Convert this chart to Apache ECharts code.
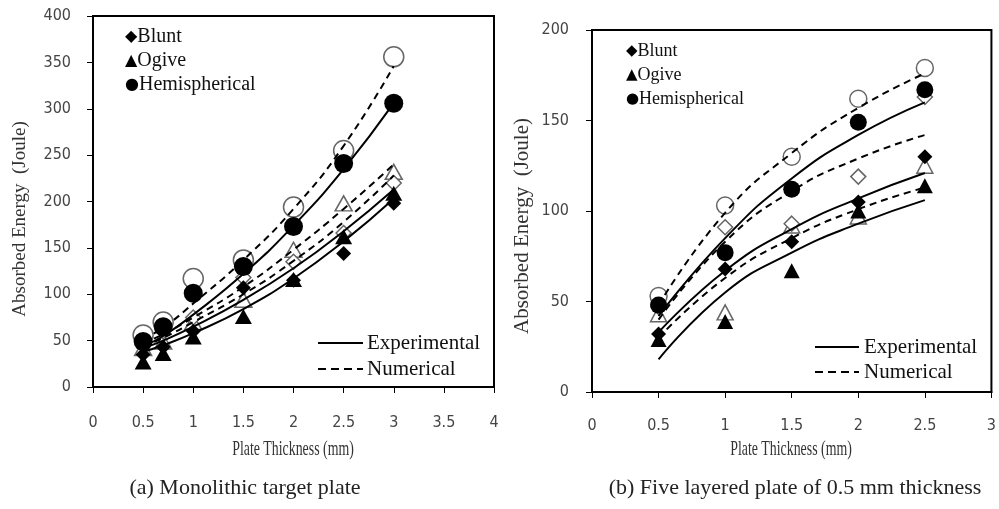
<!DOCTYPE html>
<html><head><meta charset="utf-8">
<script src="https://cdn.jsdelivr.net/npm/echarts@6/dist/echarts.min.js"></script>
<style>html,body{margin:0;padding:0;background:#fff}#c{width:999px;height:509px}</style>
</head><body><div id="c"></div>
<script>
// ---- Chart (a): Monolithic target plate ----
const thicknessA = [0.5, 0.7, 1, 1.5, 2, 2.5, 3];
const bluntExpA  = [35, 43, 60, 107, 115, 144, 198];
const bluntNumA  = [45, 60, 75, 118, 135, 166, 220];
const ogiveExpA  = [27, 36, 54, 76, 116, 162, 209];
const ogiveNumA  = [42, 49, 70, 94, 148, 198, 232];
const hemiExpA   = [49, 65, 101, 130, 173, 241, 306];
const hemiNumA   = [56, 70, 117, 137, 194, 255, 356];
const hemiExpFitA  = [44, 55, 78, 122, 174, 235, 306];
const hemiNumFitA  = [52, 64, 90, 137, 192, 260, 346];
const ogiveNumFitA = [47, 57, 75, 108, 148, 192, 240];
const bluntNumFitA = [44, 53, 70, 100, 136, 178, 228];
const bluntExpFitA = [42, 50, 65, 94, 128, 168, 213];
const ogiveExpFitA = [38, 45, 58, 84, 117, 157, 203];

// ---- Chart (b): Five layered plate of 0.5 mm thickness ----
const thicknessB = [0.5, 1, 1.5, 2, 2.5];
const bluntExpB  = [32, 68, 83, 105, 130];
const bluntNumB  = [47, 91, 93, 119, 163];
const ogiveExpB  = [29, 39, 67, 100, 114];
const ogiveNumB  = [43, 44, 92, 97, 125];
const hemiExpB   = [48, 77, 112, 149, 167];
const hemiNumB   = [53, 103, 130, 162, 179];
const hemiNumFitB  = [48, 99, 132, 157, 176];
const hemiExpFitB  = [42, 85, 118, 142, 160];
const bluntNumFitB = [40, 83, 111, 129, 142];
const bluntExpFitB = [33, 67, 90, 107, 121];
const ogiveNumFitB = [30, 63, 85, 101, 113];
const ogiveExpFitB = [18, 55, 77, 93, 106];

const xAxisNameText = 'Plate Thickness (mm)';
const yAxisNameText = 'Absorbed Energy  (Joule)';
const seriesNames = ['Blunt', 'Ogive', 'Hemispherical'];
const lineNames = ['Experimental', 'Numerical'];
const captionA = '(a) Monolithic target plate';
const captionB = '(b) Five layered plate of 0.5 mm thickness';

const tickFont = "'Liberation Sans Narrow','DejaVu Sans Condensed',sans-serif";
const serif = "'Liberation Serif','DejaVu Serif',serif";

function pts(x, y) { return x.map((v, i) => [v, y[i]]); }
function sc(gi, x, y, symbol, size, filled) {
  return {
    type: 'scatter', xAxisIndex: gi, yAxisIndex: gi, data: pts(x, y),
    symbol: symbol, symbolSize: size, z: 3,
    itemStyle: filled ? { color: '#000', borderColor: '#000', borderWidth: 0, opacity: 1 }
                      : { color: '#fff', borderColor: '#666', borderWidth: 1.5, opacity: 1 },
    emphasis: { disabled: true }, silent: true
  };
}
function ln(gi, x, y, dashed) {
  return {
    type: 'line', xAxisIndex: gi, yAxisIndex: gi, data: pts(x, y),
    smooth: 0.5, showSymbol: false, symbol: 'none', z: 4, silent: true,
    lineStyle: { color: '#000', width: 2, type: dashed ? [7, 5] : 'solid' }
  };
}
function xa(gi, max, margin) {
  return {
    type: 'value', gridIndex: gi, min: 0, max: max, interval: 0.5,
    axisLine: { show: true, lineStyle: { color: '#000', width: 2 } },
    axisTick: { show: true, inside: false, length: 6, lineStyle: { color: '#000', width: 1 } },
    splitLine: { show: false },
    axisLabel: { color: '#444', fontSize: 16, fontFamily: tickFont, margin: margin, showMinLabel: true, showMaxLabel: true }
  };
}
function ya(gi, max, interval, margin) {
  return {
    type: 'value', gridIndex: gi, min: 0, max: max, interval: interval,
    axisLine: { show: true, lineStyle: { color: '#000', width: 2 } },
    axisTick: { show: true, inside: false, length: 6, lineStyle: { color: '#000', width: 1 } },
    splitLine: { show: false },
    axisLabel: { color: '#444', fontSize: 16, fontFamily: tickFont, margin: margin, showMinLabel: true, showMaxLabel: true }
  };
}

function legendText(x, y, sym, label, fs, symFs) {
  return {
    type: 'text', left: x, top: y, z: 10,
    style: {
      text: '{s|' + sym + '}{t|' + label + '}',
      rich: {
        s: { fontSize: symFs, fontFamily: "'DejaVu Sans',sans-serif", fill: '#000' },
        t: { fontSize: fs, fontFamily: serif, fill: '#111' }
      }
    }
  };
}
function lineLegend(x1, x2, y, dashed) {
  return { type: 'line', z: 10, shape: { x1: x1, y1: y, x2: x2, y2: y },
    style: { stroke: '#000', lineWidth: 2, lineDash: dashed ? [8, 5] : null } };
}
function plainText(x, y, txt, fs, align, fill) {
  return { type: 'text', x: x, y: y, z: 10,
    style: { text: txt, fontSize: fs, fontFamily: serif, fill: fill || '#111', textAlign: align || 'left', textVerticalAlign: 'middle' } };
}
function axisName(x, y, txt, fs, rot, sx) {
  return { type: 'text', x: x, y: y, rotation: rot, scaleX: sx, scaleY: 1, z: 10,
    style: { text: txt, fontSize: fs, fontFamily: serif, fill: '#333', textAlign: 'center', textVerticalAlign: 'middle' } };
}

const chart = echarts.init(document.getElementById('c'), null, { renderer: 'canvas' });
chart.setOption({
  animation: false,
  backgroundColor: '#fff',
  grid: [
    { left: 93, top: 16, width: 401, height: 371, show: true, borderColor: '#000', borderWidth: 2, backgroundColor: 'transparent' },
    { left: 592, top: 30, width: 401, height: 362, show: true, borderColor: '#000', borderWidth: 2, backgroundColor: 'transparent' }
  ],
  xAxis: [xa(0, 4, 28), xa(1, 3, 26)],
  yAxis: [ya(0, 400, 50, 22), ya(1, 200, 50, 23)],
  series: [
    ln(0, thicknessA, hemiExpFitA, false),
    ln(0, thicknessA, hemiNumFitA, true),
    ln(0, thicknessA, ogiveNumFitA, true),
    ln(0, thicknessA, bluntNumFitA, true),
    ln(0, thicknessA, bluntExpFitA, false),
    ln(0, thicknessA, ogiveExpFitA, false),
    sc(0, thicknessA, hemiNumA, 'circle', 20, false),
    sc(0, thicknessA, ogiveNumA, 'triangle', [17, 15], false),
    sc(0, thicknessA, bluntNumA, 'diamond', 15, false),
    sc(0, thicknessA, hemiExpA, 'circle', 19, true),
    sc(0, thicknessA, ogiveExpA, 'triangle', [17, 15], true),
    sc(0, thicknessA, bluntExpA, 'diamond', 15, true),

    ln(1, thicknessB, hemiNumFitB, true),
    ln(1, thicknessB, hemiExpFitB, false),
    ln(1, thicknessB, bluntNumFitB, true),
    ln(1, thicknessB, bluntExpFitB, false),
    ln(1, thicknessB, ogiveNumFitB, true),
    ln(1, thicknessB, ogiveExpFitB, false),
    sc(1, thicknessB, hemiNumB, 'circle', 17, false),
    sc(1, thicknessB, ogiveNumB, 'triangle', [16, 15], false),
    sc(1, thicknessB, bluntNumB, 'diamond', 15, false),
    sc(1, thicknessB, hemiExpB, 'circle', 17, true),
    sc(1, thicknessB, ogiveExpB, 'triangle', [16, 15], true),
    sc(1, thicknessB, bluntExpB, 'diamond', 15, true)
  ],
  graphic: [
    axisName(293, 449, xAxisNameText, 21, 0, 0.66),
    axisName(791, 449, xAxisNameText, 21, 0, 0.66),
    axisName(20, 219, yAxisNameText, 19, Math.PI / 2, 1),
    axisName(522, 226, yAxisNameText, 21, Math.PI / 2, 1),

    legendText(125, 27, '◆', seriesNames[0], 20, 16),
    legendText(125, 51, '▲', seriesNames[1], 20, 16),
    legendText(125, 75, '●', seriesNames[2], 20, 16),
    lineLegend(318, 363, 343, false),
    plainText(367, 343, lineNames[0], 21),
    lineLegend(318, 363, 369, true),
    plainText(367, 369, lineNames[1], 21),

    legendText(626, 42, '◆', seriesNames[0], 18, 15),
    legendText(626, 66, '▲', seriesNames[1], 18, 15),
    legendText(626, 90, '●', seriesNames[2], 18, 15),
    lineLegend(815, 859, 347, false),
    plainText(864, 347, lineNames[0], 21),
    lineLegend(815, 859, 372, true),
    plainText(864, 372, lineNames[1], 21),

    plainText(245, 488, captionA, 22, 'center', '#222'),
    plainText(795, 488, captionB, 22, 'center', '#222')
  ]
});
</script>
</body></html>
